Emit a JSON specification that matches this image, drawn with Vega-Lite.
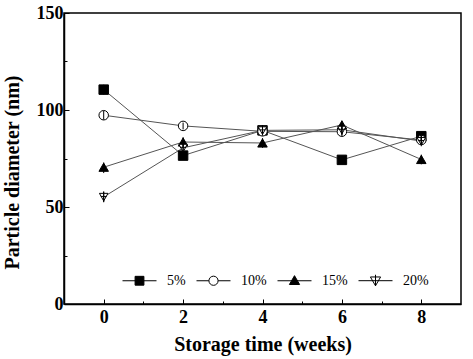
{
  "$schema": "https://vega.github.io/schema/vega-lite/v6.json",
  "width": 397,
  "height": 291,
  "autosize": {"type": "none"},
  "padding": {"left": 64, "top": 13, "right": 12, "bottom": 55},
  "background": "white",
  "config": {
    "view": {"stroke": "black", "strokeWidth": 1.5},
    "axis": {
      "grid": false,
      "domainColor": "black",
      "domainWidth": 1.5,
      "tickColor": "black",
      "tickWidth": 1,
      "labelFont": "Liberation Serif",
      "labelFontSize": 18,
      "labelFontWeight": "bold",
      "labelColor": "black",
      "titleFont": "Liberation Serif",
      "titleFontSize": 20,
      "titleFontWeight": "bold",
      "titleColor": "black"
    },
    "legend": {
      "orient": "none",
      "legendX": 58,
      "legendY": 250,
      "direction": "horizontal",
      "symbolSize": 1156,
      "symbolStrokeWidth": 1,
      "symbolFillColor": "black",
      "symbolStrokeColor": "black",
      "labelFont": "Liberation Serif",
      "labelFontSize": 14,
      "labelColor": "black",
      "labelOffset": 10,
      "columnPadding": 8
    }
  },
  "data": {
    "values": [
      {"week": 0, "series": "5%", "d": 110.5, "lo": 108, "hi": 113},
      {"week": 2, "series": "5%", "d": 76.5, "lo": 74.5, "hi": 78.5},
      {"week": 4, "series": "5%", "d": 89.5, "lo": 87.5, "hi": 91.5},
      {"week": 6, "series": "5%", "d": 74.3, "lo": 72.5, "hi": 76},
      {"week": 8, "series": "5%", "d": 86.5, "lo": 84.5, "hi": 88.5},
      {"week": 0, "series": "10%", "d": 97.3, "lo": 95, "hi": 99.5},
      {"week": 2, "series": "10%", "d": 91.8, "lo": 90, "hi": 93.5},
      {"week": 4, "series": "10%", "d": 89, "lo": 87, "hi": 91},
      {"week": 6, "series": "10%", "d": 88.8, "lo": 86.5, "hi": 91},
      {"week": 8, "series": "10%", "d": 84.5, "lo": 82.5, "hi": 86.5},
      {"week": 0, "series": "15%", "d": 70.5, "lo": 67.5, "hi": 73},
      {"week": 2, "series": "15%", "d": 83.5, "lo": 81, "hi": 86},
      {"week": 4, "series": "15%", "d": 83, "lo": 80.5, "hi": 85.5},
      {"week": 6, "series": "15%", "d": 92.3, "lo": 90, "hi": 94.5},
      {"week": 8, "series": "15%", "d": 74.5, "lo": 72, "hi": 77},
      {"week": 0, "series": "20%", "d": 55.2, "lo": 52.5, "hi": 58},
      {"week": 2, "series": "20%", "d": 80.5, "lo": 78.5, "hi": 82.5},
      {"week": 4, "series": "20%", "d": 89.5, "lo": 87.5, "hi": 91.5},
      {"week": 6, "series": "20%", "d": 89.8, "lo": 87.5, "hi": 92},
      {"week": 8, "series": "20%", "d": 84, "lo": 82, "hi": 86}
    ]
  },
  "encoding": {
    "x": {
      "field": "week",
      "type": "quantitative",
      "scale": {"domain": [-1, 9], "nice": false, "zero": false},
      "axis": {
        "values": [0, 1, 2, 3, 4, 5, 6, 7, 8],
        "labelExpr": "datum.value % 2 === 0 ? datum.label : ''",
        "tickSize": {"condition": {"test": "datum.value % 2 !== 0", "value": -3}, "value": -5},
        "labelPadding": 9,
        "title": "Storage time (weeks)",
        "titlePadding": 8
      }
    },
    "y": {
      "field": "d",
      "type": "quantitative",
      "scale": {"domain": [0, 150], "nice": false},
      "axis": {
        "values": [0, 25, 50, 75, 100, 125, 150],
        "labelExpr": "datum.value % 50 === 0 ? datum.label : ''",
        "tickSize": {"condition": {"test": "datum.value % 50 !== 0", "value": -3}, "value": -5},
        "labelPadding": 6,
        "title": "Particle diameter (nm)",
        "titleX": -42,
        "titleY": 159
      }
    }
  },
  "resolve": {
    "scale": {"shape": "independent", "fill": "independent"},
    "legend": {"shape": "independent", "fill": "independent"}
  },
  "layer": [
    {
      "mark": {"type": "line", "color": "#555555", "strokeWidth": 1},
      "encoding": {"detail": {"field": "series"}}
    },
    {
      "mark": {"type": "point", "filled": true, "size": 90, "stroke": "black", "strokeWidth": 1, "opacity": 1},
      "encoding": {
        "shape": {
          "field": "series",
          "type": "nominal",
          "scale": {
            "domain": ["5%", "10%", "15%", "20%"],
            "range": ["square", "circle", "triangle-up", "M-0.9,-0.75H0.9L0,0.85Z M0,-1.1V1.1 M-0.6,-0.1H0.6"]
          },
          "legend": null
        },
        "fill": {
          "field": "series",
          "type": "nominal",
          "scale": {"domain": ["5%", "10%", "15%", "20%"], "range": ["black", "white", "black", "white"]},
          "legend": null
        }
      }
    },
    {
      "mark": {"type": "rule", "color": "black", "strokeWidth": 1},
      "encoding": {
        "y": {"field": "lo", "type": "quantitative"},
        "y2": {"field": "hi"}
      }
    },
    {
      "mark": {"type": "point", "filled": true, "size": 1, "stroke": "black", "strokeWidth": 1, "opacity": 0},
      "encoding": {
        "shape": {
          "field": "series",
          "type": "nominal",
          "scale": {
            "domain": ["5%", "10%", "15%", "20%"],
            "range": [
              "M-1,0H1M-0.26,-0.26H0.26V0.26H-0.26Z",
              "M-1,0H-0.27M0.27,0H1M-0.27,0A0.27,0.27,0,1,1,0.27,0A0.27,0.27,0,1,1,-0.27,0Z",
              "M-1,0H1M0,-0.3L0.3,0.22H-0.3Z",
              "M-1,0H1M-0.3,-0.22H0.3L0,0.3Z M0,-0.35V0.3"
            ]
          },
          "legend": {"title": null}
        },
        "fill": {
          "field": "series",
          "type": "nominal",
          "scale": {"domain": ["5%", "10%", "15%", "20%"], "range": ["black", "white", "black", "white"]},
          "legend": {"title": null}
        }
      }
    }
  ]
}
